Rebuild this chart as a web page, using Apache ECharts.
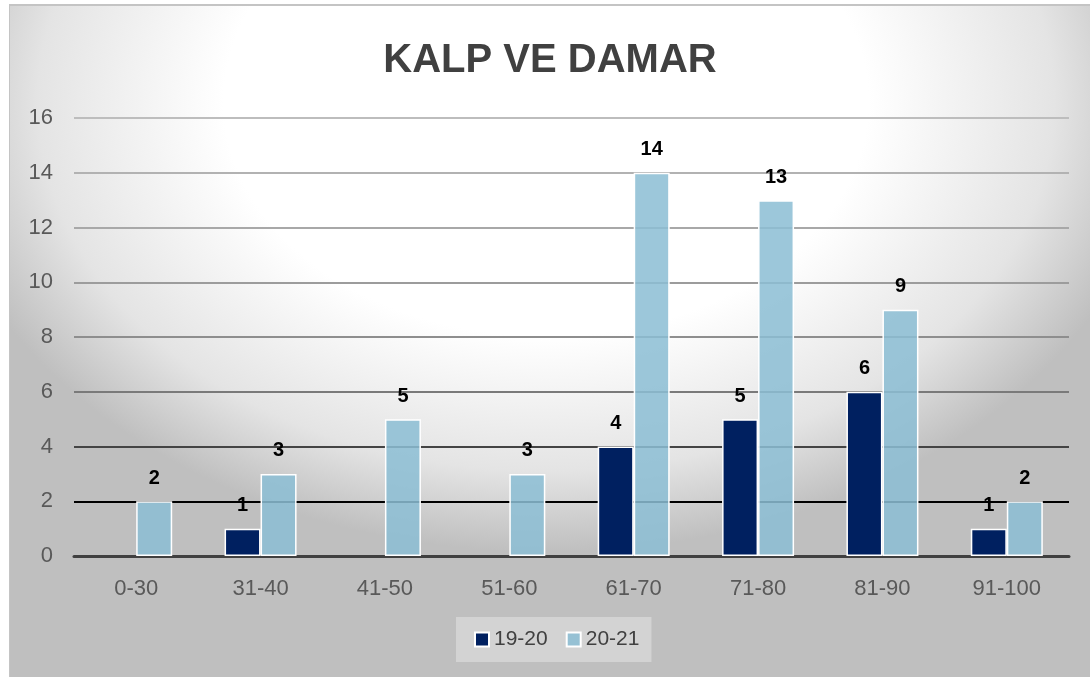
<!DOCTYPE html>
<html>
<head>
<meta charset="utf-8">
<script src="https://cdn.jsdelivr.net/npm/echarts@6/dist/echarts.min.js"></script>
<style>
  html, body { margin: 0; padding: 0; background: #fff; }
  #chart {
    position: absolute;
    left: 9px;
    top: 4px;
    width: 1081px;
    height: 673px;
    box-sizing: border-box;
    border-left: 1px solid #c4c4c4;
    border-top: 2px solid #c4c4c4;
    background: radial-gradient(ellipse 620px 450px at 536px 96px, #ffffff 0%, #ffffff 52%, #e4e4e4 82%, #bfbfbf 100%);
  }
</style>
</head>
<body>
<div id="chart"></div>
<script>
// yaş grupları
const categories = ['0-30', '31-40', '41-50', '51-60', '61-70', '71-80', '81-90', '91-100'];
const seriesNames = ['19-20', '20-21'];
const data1920 = [null, 1, null, null, 4, 5, 6, 1];
const data2021 = [2, 3, 5, 3, 14, 13, 9, 2];
const yTicks = [0, 2, 4, 6, 8, 10, 12, 14, 16];

// grid çizgileri aşağı doğru koyulaşıyor
const gridColors = ['#404040', '#000000', '#444444', '#7a7a7a', '#8e8e8e', '#9c9c9c', '#a8a8a8', '#b2b2b2', '#bdbdbd'];

const chart = echarts.init(document.getElementById('chart'));

const labelStyle = {
  show: true,
  position: 'top',
  distance: 13,
  color: '#000',
  fontWeight: 'bold',
  fontSize: 20,
  fontFamily: 'Liberation Sans, Arial, sans-serif',
  formatter: (p) => (p.value == null ? '' : p.value)
};

chart.setOption({
  backgroundColor: 'transparent',
  title: {
    text: 'KALP VE DAMAR',
    left: 'center',
    top: 30,
    textStyle: {
      color: '#404040',
      fontSize: 40,
      fontWeight: 'bold',
      fontFamily: 'Liberation Sans, Arial, sans-serif'
    }
  },
  legend: {
    data: seriesNames,
    left: 446,
    top: 611,
    padding: [12, 12, 12, 18],
    backgroundColor: '#d3d3d3',
    itemWidth: 14,
    itemHeight: 14,
    itemGap: 18,
    icon: 'rect',
    textStyle: {
      color: '#404040',
      fontSize: 21,
      fontFamily: 'Liberation Sans, Arial, sans-serif'
    }
  },
  grid: {
    left: 64,
    right: 21,
    top: 112,
    bottom: 121,
    containLabel: false
  },
  xAxis: [
    {
      type: 'category',
      data: categories,
      axisTick: { show: false },
      axisLine: { lineStyle: { color: '#404040', width: 3 } },
      axisLabel: {
        margin: 22,
        color: '#595959',
        fontSize: 22,
        fontFamily: 'Liberation Sans, Arial, sans-serif'
      }
    }
  ],
  yAxis: [
    {
      type: 'value',
      min: yTicks[0],
      max: yTicks[yTicks.length - 1],
      interval: 2,
      axisLine: { show: false },
      axisTick: { show: false },
      splitLine: {
        show: true,
        showMinLine: true,
        lineStyle: { color: gridColors, width: 2 }
      },
      axisLabel: {
        margin: 21,
        color: '#595959',
        fontSize: 22,
        fontFamily: 'Liberation Sans, Arial, sans-serif'
      }
    }
  ],
  series: [
    {
      name: seriesNames[0],
      type: 'bar',
      barWidth: 36,
      barGap: '0%',
      data: data1920,
      itemStyle: { color: '#002060', borderColor: '#ffffff', borderWidth: 1.5 },
      label: labelStyle
    },
    {
      name: seriesNames[1],
      type: 'bar',
      barWidth: 36,
      barGap: '0%',
      data: data2021,
      itemStyle: { color: 'rgba(140, 190, 212, 0.86)', borderColor: '#ffffff', borderWidth: 1.5 },
      label: labelStyle
    }
  ]
});
</script>
</body>
</html>
